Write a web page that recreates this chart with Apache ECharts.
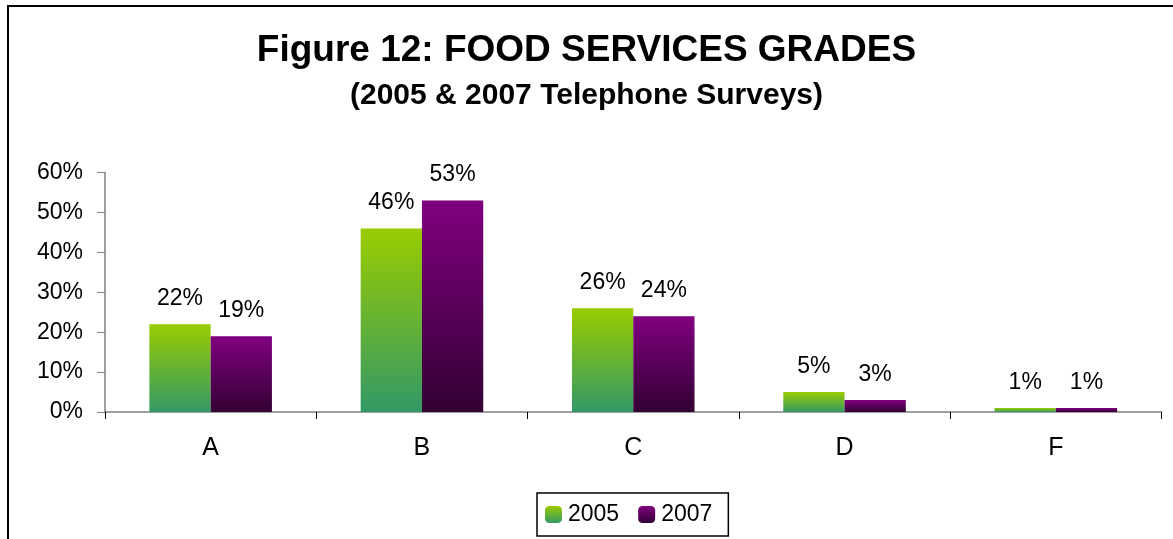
<!DOCTYPE html>
<html>
<head>
<meta charset="utf-8">
<script src="https://cdn.jsdelivr.net/npm/echarts@6/dist/echarts.min.js"></script>
<style>
  html, body { margin: 0; padding: 0; background: #fff; }
  #chart { width: 1173px; height: 539px; }
</style>
</head>
<body>
<div id="chart"></div>
<script>
// grades and survey results (percent)
var grades = ['A', 'B', 'C', 'D', 'F'];
var years = ['2005', '2007'];
var vals2005 = [22, 46, 26, 5, 1];
var vals2007 = [19, 53, 24, 3, 1];
var yTicks = [0, 10, 20, 30, 40, 50, 60];

var FONT = 'Liberation Sans, Arial, sans-serif';

function grad(top, bottom) {
    return new echarts.graphic.LinearGradient(0, 0, 0, 1, [
        { offset: 0, color: top },
        { offset: 1, color: bottom }
    ]);
}

var chart = echarts.init(document.getElementById('chart'));

var labelStyle = {
    show: true,
    position: 'top',
    distance: 14,
    formatter: '{c}%',
    color: '#000',
    fontSize: 23,
    fontFamily: FONT
};

var option = {
    backgroundColor: '#fff',
    animation: false,
    title: {
        text: 'Figure 12: FOOD SERVICES GRADES',
        subtext: '(2005 & 2007 Telephone Surveys)',
        left: 'center',
        top: 27,
        itemGap: 12,
        textStyle: { fontFamily: FONT, fontWeight: 'bold', fontSize: 37, color: '#000' },
        subtextStyle: { fontFamily: FONT, fontWeight: 'bold', fontSize: 30, color: '#000' }
    },
    legend: {
        data: years,
        left: 537,
        top: 493,
        padding: [10, 16, 10, 8],
        itemWidth: 17,
        itemHeight: 17,
        itemGap: 19,
        borderColor: '#000',
        borderWidth: 1.5,
        textStyle: { fontFamily: FONT, fontSize: 23, color: '#000', padding: [0, 0, 0, 1] }
    },
    grid: { left: 105, right: 11.5, top: 172.5, bottom: 127 },
    xAxis: {
        type: 'category',
        data: grades,
        axisLine: { lineStyle: { color: '#808080', width: 1.5 } },
        axisTick: { show: true, length: 7, lineStyle: { color: '#000' } },
        axisLabel: { color: '#000', fontSize: 25, fontFamily: FONT, margin: 24 }
    },
    yAxis: {
        type: 'value',
        min: yTicks[0],
        max: yTicks[yTicks.length - 1],
        interval: 10,
        splitLine: { show: false },
        axisLine: { show: true, lineStyle: { color: '#808080', width: 1.5 } },
        axisTick: { show: true, length: 8, lineStyle: { color: '#808080' } },
        axisLabel: { color: '#000', fontSize: 23, fontFamily: FONT, margin: 22, formatter: '{value}%' }
    },
    series: [
        {
            name: years[0],
            type: 'bar',
            data: vals2005,
            barGap: '0%',
            barCategoryGap: '42%',
            itemStyle: { color: grad('#99cc00', '#339966') },
            label: labelStyle
        },
        {
            name: years[1],
            type: 'bar',
            data: vals2007,
            itemStyle: { color: grad('#800080', '#330033') },
            label: labelStyle
        }
    ],
    graphic: [
        {
            type: 'rect',
            shape: { x: 8, y: 6, width: 1200, height: 600 },
            style: { fill: 'none', stroke: '#000', lineWidth: 2 },
            silent: true
        }
    ]
};

chart.setOption(option);
</script>
</body>
</html>
